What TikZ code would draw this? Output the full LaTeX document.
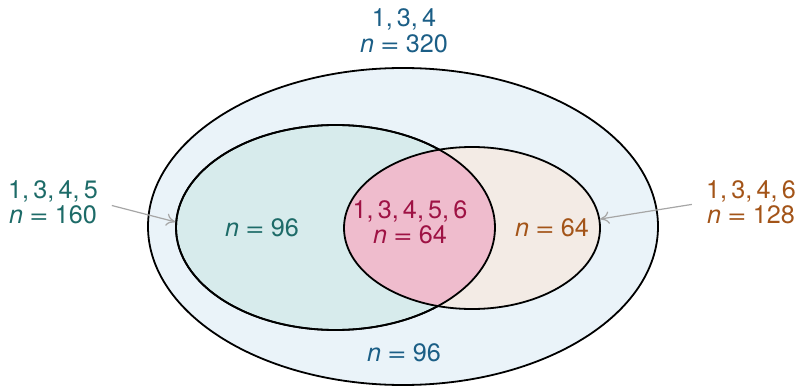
\documentclass[tikz,border=0pt]{standalone}
\usepackage{fontspec}
\setmainfont{TeX Gyre Heros}
\usepackage{graphicx}
\usepackage{tikz}
\usepackage{xcolor}
\usetikzlibrary{shapes.geometric, arrows.meta}
\definecolor{cAll}{RGB}{27,94,134}
\definecolor{cAllFill}{RGB}{234,243,249}
\definecolor{cFive}{RGB}{29,107,104}
\definecolor{cFiveFill}{RGB}{215,235,236}
\definecolor{cSix}{RGB}{163,84,24}
\definecolor{cSixFill}{RGB}{243,235,229}
\definecolor{cBoth}{RGB}{158,18,68}
\definecolor{cBothFill}{RGB}{239,188,205}
\definecolor{cPointer}{RGB}{166,166,166}
\tikzset{
	setoval/.style ={ellipse, inner sep=0pt, draw=black, line width=0.9pt},
	setlabel/.style={align=center, inner sep=1pt, font=\fontsize{12.6}{12.75}\selectfont},
	pointer/.style ={-{To[length=1.6mm, width=2.2mm]}, draw=cPointer, line width=0.6pt},
}
\newcommand{\nval}[1]{\textit{n}\hspace{0.25em}\scalebox{1.3}[1]{=}\hspace{0.25em}#1}
\begin{document}
\begin{tikzpicture}[x=0.5pt, y=0.5pt]
	\useasboundingbox (0,0) rectangle (797,386);
	% the three sets
	\node[setoval, fill=cAllFill, minimum width=255pt, minimum height=158.5pt] (U) at (403,159.5) {};
	\node[setoval, fill=cFiveFill, minimum width=159.5pt, minimum height=102.5pt] (A) at (335.5,158.5) {};
	\node[setoval, fill=cSixFill, minimum width=128pt, minimum height=81pt,
		path picture={\fill[cBothFill] (A.center) ellipse [x radius=79.75pt, y radius=51.25pt];}] (B) at (472,158) {};
	\draw[line width=0.9pt] (A.center) ellipse [x radius=79.75pt, y radius=51.25pt];
	% counts
	\node[setlabel, text=cAll] (uTop) at (404,355) {1,\,3,\,4\\ \nval{320}};
	\node[setlabel, text=cAll] (uRest) at (404,33) {\nval{96}};
	\node[setlabel, text=cFive] (aOut) at (53,183.5) {1,\,3,\,4,\,5\\ \nval{160}};
	\node[setlabel, text=cFive] (aRest) at (262,158) {\nval{96}};
	\node[setlabel, text=cSix] (bOut) at (751,183.5) {1,\,3,\,4,\,6\\ \nval{128}};
	\node[setlabel, text=cSix] (bRest) at (552,158) {\nval{64}};
	\node[setlabel, text=cBoth] (ab) at (410,163.5) {1,\,3,\,4,\,5,\,6\\ \nval{64}};
	\draw[pointer, shorten <=6pt] (aOut.east) -- (A.178);
	\draw[pointer, shorten <=6pt] (bOut.west) -- (B.4.5);
\end{tikzpicture}
\end{document}
